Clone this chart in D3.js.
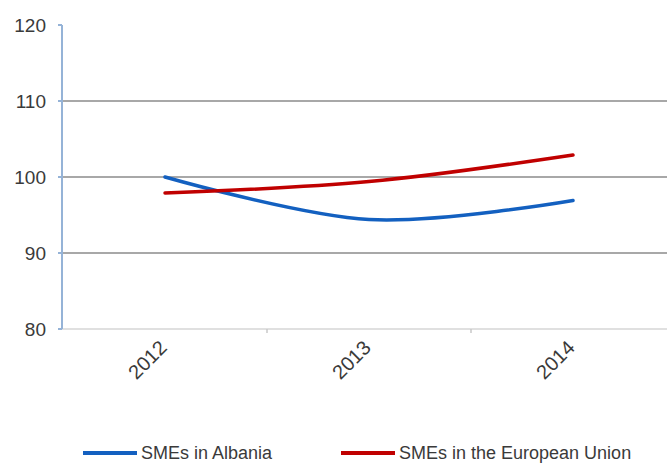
<!DOCTYPE html>
<html>
<head>
<meta charset="utf-8">
<script src="https://cdn.jsdelivr.net/npm/d3@7"></script>
<style>
html, body { margin: 0; padding: 0; background: #fff; }
text { font-family: "Liberation Sans", Arial, sans-serif; fill: #3a3a3a; }
</style>
</head>
<body>
<svg id="chart"></svg>
<script>
const years = ["2012", "2013", "2014"];
const albania = [100, 94.4, 96.9];
const eu = [97.9, 99.4, 102.9];
const yTicks = [80, 90, 100, 110, 120];
const seriesNames = ["SMEs in Albania", "SMEs in the European Union"];
const colors = ["#1360c0", "#c00000"];

const svg = d3.select("#chart")
.attr("width", 667)
.attr("height", 465);

const x = d3.scaleBand()
.domain(years)
.range([63, 675]);
const y = d3.scaleLinear()
.domain([80, 120])
.range([329, 25]);

// grid lines
svg.selectAll("line.grid")
.data(yTicks.filter(d => d > 80 && d < 120))
.enter()
.append("line")
.attr("class", "grid")
.attr("x1", 62)
.attr("x2", 667)
.attr("y1", d => y(d))
.attr("y2", d => y(d))
.style("stroke", "#a8a8a8")
.style("stroke-width", 2);

// bottom axis
svg.append("line")
.attr("x1", 62)
.attr("x2", 667)
.attr("y1", y(80))
.attr("y2", y(80))
.style("stroke", "#e0e0e0")
.style("stroke-width", 2);
svg.selectAll("line.xtick")
.data(years.slice(1))
.enter()
.append("line")
.attr("class", "xtick")
.attr("x1", d => x(d))
.attr("x2", d => x(d))
.attr("y1", y(80))
.attr("y2", y(80) + 4)
.style("stroke", "#c8c8c8")
.style("stroke-width", 1.5);

// y axis
svg.append("line")
.attr("x1", 62)
.attr("x2", 62)
.attr("y1", y(120))
.attr("y2", y(80))
.style("stroke", "#95b3d7")
.style("stroke-width", 2);
svg.selectAll("line.ytick")
.data(yTicks)
.enter()
.append("line")
.attr("class", "ytick")
.attr("x1", 58)
.attr("x2", 62)
.attr("y1", d => y(d))
.attr("y2", d => y(d))
.style("stroke", "#95b3d7")
.style("stroke-width", 2);
svg.selectAll("text.ylabel")
.data(yTicks)
.enter()
.append("text")
.attr("class", "ylabel")
.attr("x", 46)
.attr("y", d => y(d))
.attr("text-anchor", "end")
.attr("dominant-baseline", "central")
.style("font-size", "19px")
.text(d => d);

// x labels
svg.selectAll("text.xlabel")
.data(years)
.enter()
.append("text")
.attr("class", "xlabel")
.attr("transform", d => "translate(" + (x(d) + x.bandwidth() / 2 + 3) + ",349) rotate(-45)")
.attr("text-anchor", "end")
.style("font-size", "20px")
.text(d => d);

// series lines
const line = d3.line()
.x((d, i) => x(years[i]) + x.bandwidth() / 2)
.y(d => y(d))
.curve(d3.curveCardinal.tension(0));

[albania, eu].forEach((s, k) => {
    svg.append("path")
        .attr("d", line(s))
        .style("fill", "none")
        .style("stroke", colors[k])
        .style("stroke-width", 3.5)
        .style("stroke-linecap", "round");
});

// legend
const legendX = [83, 341];
seriesNames.forEach((name, k) => {
    svg.append("line")
        .attr("x1", legendX[k])
        .attr("x2", legendX[k] + 54)
        .attr("y1", 453)
        .attr("y2", 453)
        .style("stroke", colors[k])
        .style("stroke-width", 4);
    svg.append("text")
        .attr("x", legendX[k] + 58)
        .attr("y", 453)
        .attr("dominant-baseline", "central")
        .style("font-size", "18px")
        .text(name);
});
</script>
</body>
</html>
